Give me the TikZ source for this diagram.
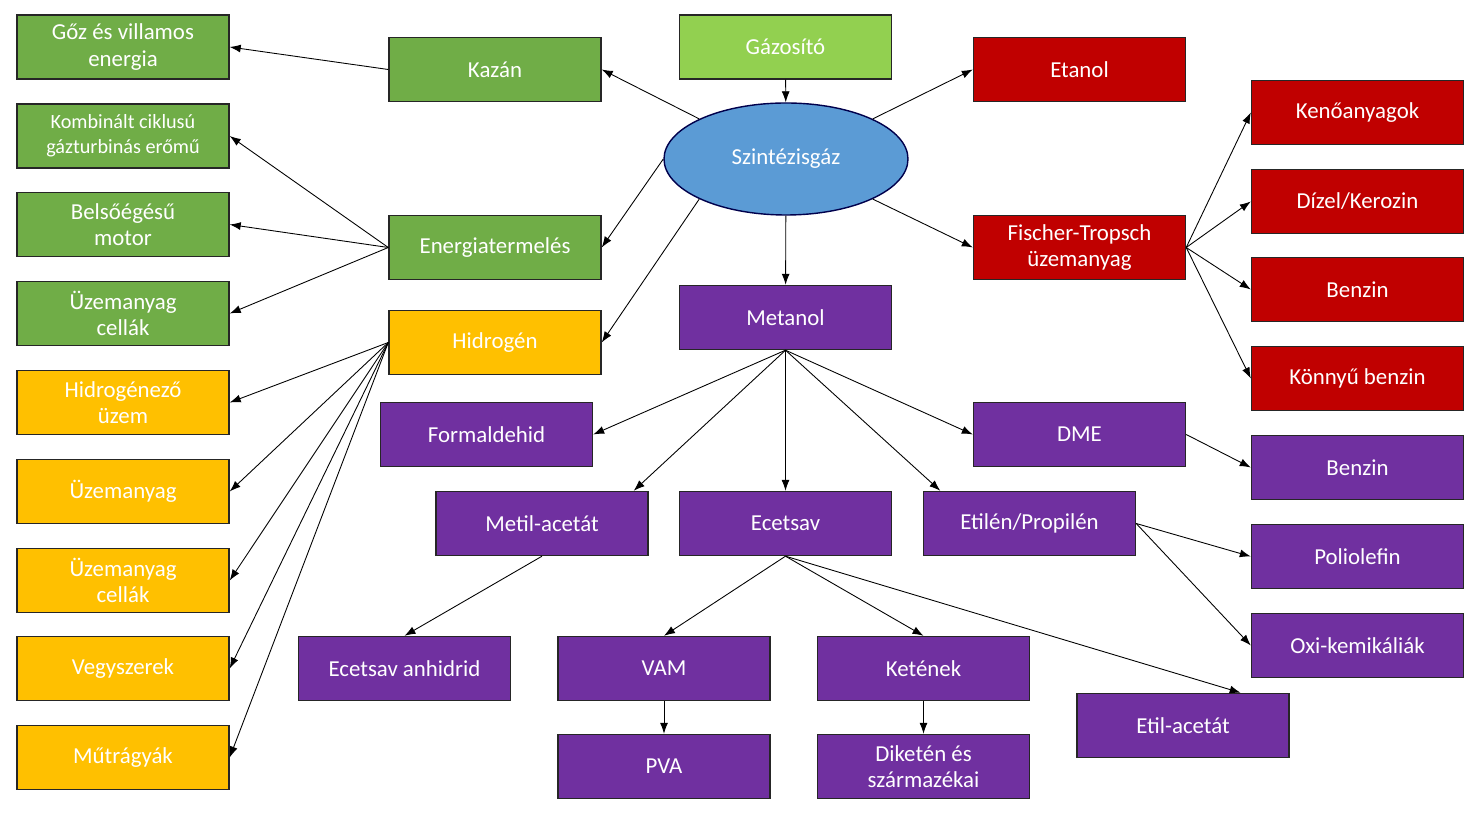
\documentclass[tikz,border=0pt]{standalone}
\usepackage{fontspec}
\setmainfont{Carlito}
\usetikzlibrary{shapes.geometric,arrows.meta}
\definecolor{zold}{HTML}{70AD47}
\definecolor{vzold}{HTML}{92D050}
\definecolor{piros}{HTML}{C00000}
\definecolor{sarga}{HTML}{FFC000}
\definecolor{lila}{HTML}{7030A0}
\definecolor{kek}{HTML}{5B9BD5}
\tikzset{
	doboz/.style={
		draw=black!85, line width=0.8pt, text=white, align=center,
		minimum width=4.24cm, minimum height=1.28cm, inner sep=1pt,
		font=\fontsize{13}{15}\selectfont
	},
	zd/.style={doboz, fill=zold},
	pd/.style={doboz, fill=piros},
	sd/.style={doboz, fill=sarga},
	ld/.style={doboz, fill=lila},
	nyil/.style={-{Latex[length=2.2mm,width=1.6mm]}, line width=0.5pt}
}
\begin{document}
\begin{tikzpicture}
  \useasboundingbox (0,0) rectangle (29.38,-16.38);

  % bal oszlop
  \node[zd] (goz) at (2.46,-0.94) {Gőz és villamos\\energia};
  \node[zd,font=\fontsize{11.5}{14}\selectfont] (komb) at (2.46,-2.72) {Kombinált ciklusú\\gázturbinás erőmű};
  \node[zd] (belso) at (2.46,-4.49) {Belsőégésű\\motor};
  \node[zd] (uzcz) at (2.46,-6.27) {Üzemanyag\\cellák};
  \node[sd] (hidr2) at (2.46,-8.05) {Hidrogénező\\üzem};
  \node[sd] (uzem) at (2.46,-9.83) {Üzemanyag};
  \node[sd] (uzcs) at (2.46,-11.61) {Üzemanyag\\cellák};
  \node[sd] (vegy) at (2.46,-13.37) {Vegyszerek};
  \node[sd] (mut) at (2.46,-15.15) {Műtrágyák};

  \node[zd] (kazan) at (9.9,-1.39) {Kazán};
  \node[zd] (energia) at (9.9,-4.95) {Energiatermelés};
  \node[sd] (hidrogen) at (9.9,-6.85) {Hidrogén};

  % kozep
  \node[doboz,fill=vzold] (gaz) at (15.71,-0.94) {Gázosító};
  \node[ellipse,draw=black!70!blue,line width=0.8pt,fill=kek,text=white,
    minimum width=4.88cm,minimum height=2.24cm,font=\fontsize{13}{15}\selectfont]
    (szg) at (15.72,-3.18) {Szintézisgáz};
  \node[ld] (metanol) at (15.71,-6.35) {Metanol};

  \node[pd] (etanol) at (21.59,-1.39) {Etanol};
  \node[pd] (ft) at (21.59,-4.95) {Fischer-Tropsch\\üzemanyag};
  \node[pd] (keno) at (27.15,-2.25) {Kenőanyagok};
  \node[pd] (dizel) at (27.15,-4.03) {Dízel/Kerozin};
  \node[pd] (benzin) at (27.15,-5.79) {Benzin};
  \node[pd] (konnyu) at (27.15,-7.57) {Könnyű benzin};

  \node[ld] (formal) at (9.73,-8.69) {Formaldehid};
  \node[ld] (dme) at (21.59,-8.69) {DME};
  \node[ld] (benzinp) at (27.15,-9.35) {Benzin};
  \node[ld] (metil) at (10.84,-10.47) {Metil-acetát};
  \node[ld] (ecet) at (15.71,-10.47) {Ecetsav};
  \node[ld] (etilen) at (20.59,-10.47) {Etilén/Propilén};
  \node[ld] (poli) at (27.15,-11.13) {Poliolefin};
  \node[ld] (oxi) at (27.15,-12.91) {Oxi-kemikáliák};
  \node[ld] (anhid) at (8.09,-13.37) {Ecetsav anhidrid};
  \node[ld] (vam) at (13.28,-13.37) {VAM};
  \node[ld] (keten) at (18.47,-13.37) {Ketének};
  \node[ld] (etil) at (23.66,-14.51) {Etil-acetát};
  \node[ld] (pva) at (13.28,-15.33) {PVA};
  \node[ld] (diket) at (18.47,-15.33) {Diketén és\\származékai};

  % nyilak
  \draw[nyil] (gaz) -- (szg);
  \draw[nyil] (szg.north west) -- (kazan.east);
  \draw[nyil] (szg.west) -- (energia.east);
  \draw[nyil] (szg.south west) -- (hidrogen.east);
  \draw[nyil] (szg.north east) -- (etanol.west);
  \draw[nyil] (szg.south east) -- (ft.west);
  \draw[nyil] (szg) -- (metanol);

  \draw[nyil] (kazan.west) -- (goz.east);
  \foreach \c in {komb,belso,uzcz}
    \draw[nyil] (energia.west) -- (\c.east);
  \foreach \c in {hidr2,uzem,uzcs,vegy,mut}
    \draw[nyil] (hidrogen.west) -- (\c.east);
  \foreach \c in {keno,dizel,benzin,konnyu}
    \draw[nyil] (ft.east) -- (\c.west);

  \draw[nyil] (metanol.south) -- (formal.east);
  \draw[nyil] (metanol.south) -- ([xshift=-0.3cm]metil.north east);
  \draw[nyil] (metanol) -- (ecet);
  \draw[nyil] (metanol.south) -- ([xshift=0.35cm]etilen.north west);
  \draw[nyil] (metanol.south) -- (dme.west);
  \draw[nyil] (dme.east) -- (benzinp.west);
  \draw[nyil] (etilen.east) -- (poli.west);
  \draw[nyil] (etilen.east) -- (oxi.west);
  \draw[nyil] (metil.south) -- (anhid.north);
  \draw[nyil] (ecet.south) -- (vam.north);
  \draw[nyil] (ecet.south) -- (keten.north);
  \draw[nyil] (ecet.south) -- ([xshift=-0.98cm]etil.north east);
  \draw[nyil] (vam) -- (pva);
  \draw[nyil] (keten) -- (diket);
\end{tikzpicture}
\end{document}
